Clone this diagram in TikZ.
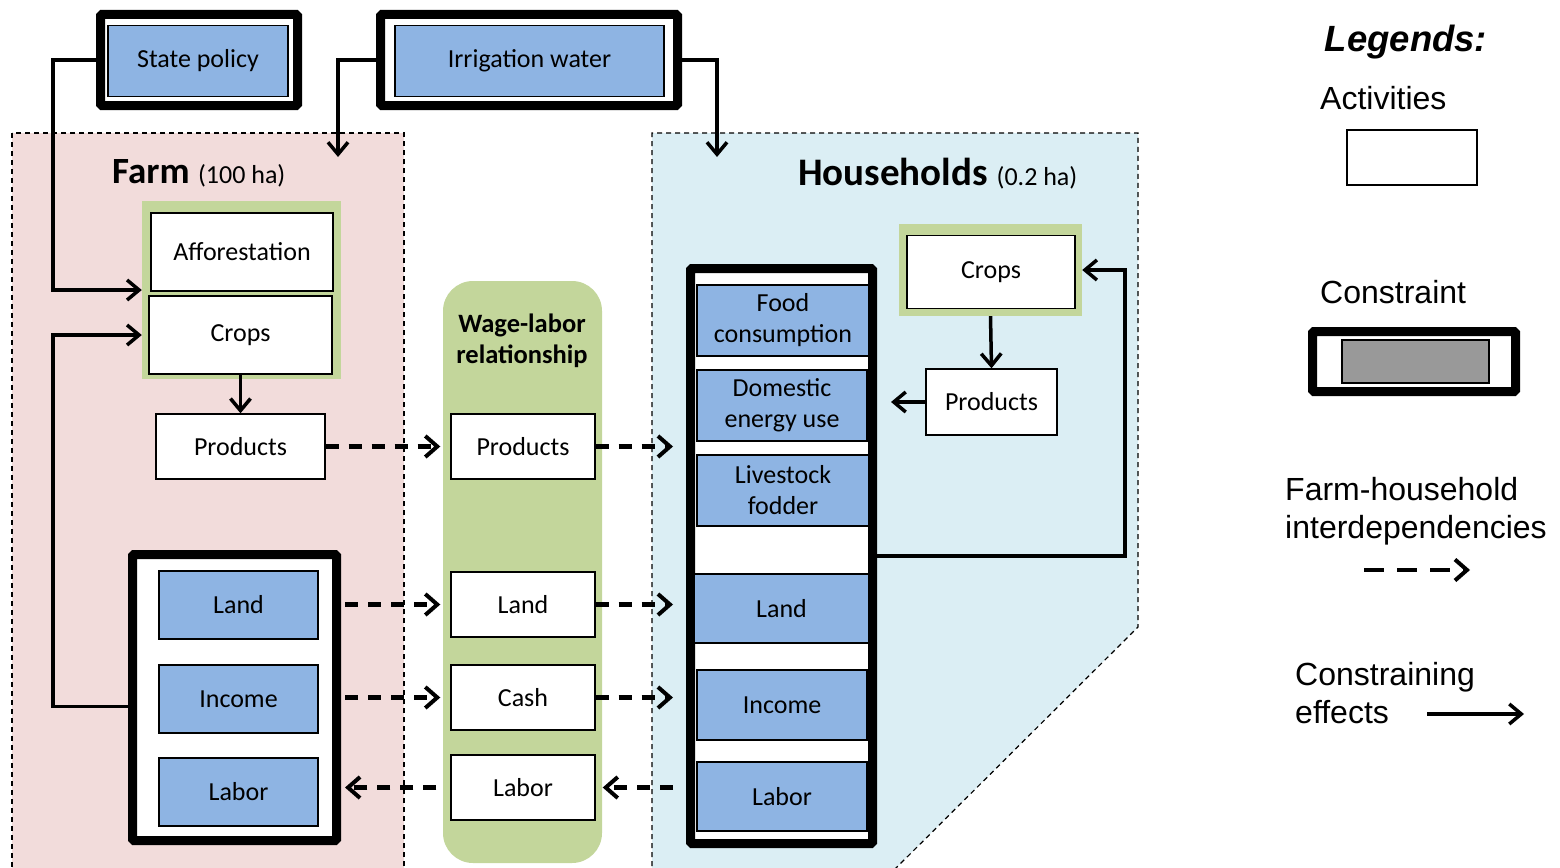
\documentclass[tikz,border=0pt]{standalone}
\usepackage{fontspec}
\setmainfont{Carlito}
\newfontfamily\arialfont{Liberation Sans}
\usetikzlibrary{arrows.meta}
\definecolor{farmpink}{HTML}{F2DCDB}
\definecolor{hhblue}{HTML}{DBEEF4}
\definecolor{actgreen}{HTML}{C3D69B}
\definecolor{consblue}{HTML}{8EB4E3}
\definecolor{leggray}{HTML}{999999}
\newcommand{\boxfont}{\fontsize{26}{31}\selectfont}
\newcommand{\legfont}{\arialfont\fontsize{32}{38}\selectfont}
\tikzset{
  actbox/.style={draw,fill=white,line width=1.4pt,inner sep=0pt,align=center,font=\boxfont},
  consbox/.style={actbox,fill=consblue},
  consframe/.style={draw,line width=9pt,fill=white,rounded corners=1.5pt,inner sep=0pt},
  actframe/.style={fill=actgreen,inner sep=0pt},
  area/.style={line width=1.2pt,dash pattern=on 5pt off 4pt},
  effect/.style={line width=3.5pt,-{Straight Barb[length=12pt,width=20pt,line width=3.5pt]}},
  interdep/.style={line width=4.5pt,dash pattern=on 13pt off 10pt,-{Straight Barb[length=12pt,width=21pt,line width=4pt]}},
  legtext/.style={font=\legfont,inner sep=0pt,anchor=base west}
}
\begin{document}
\begin{tikzpicture}[x=1pt,y=-1pt]
\useasboundingbox (0,0) rectangle (1560,867);
% areas
\draw[area,fill=farmpink] (12,133) rectangle (404,875);
\draw[area,fill=hhblue] (652,875) -- (652,133) -- (1138,133) -- (1138,627) -- (889,875);
\fill[actgreen,rounded corners=30pt] (443,281) rectangle (602,863);
\node[inner sep=0pt,anchor=base west] (farmtitle) at (112,183)
  {\fontsize{37}{40}\selectfont\bfseries Farm \fontsize{26}{30}\selectfont\mdseries(100 ha)};
\node[inner sep=0pt,anchor=base west] (hhtitle) at (798,185)
  {\fontsize{39}{40}\selectfont\bfseries Households \fontsize{26}{30}\selectfont\mdseries(0.2 ha)};
\node[inner sep=0pt,align=center,font=\fontsize{26.5}{31}\selectfont\bfseries] (wagetitle) at (522,341)
  {Wage-labor\\relationship};
% constraints on top
\node[consframe,minimum width=197pt,minimum height=91pt] (policyframe) at (199,60) {};
\node[consbox,minimum width=180pt,minimum height=71pt] (policy) at (198,61) {State policy};
\node[consframe,minimum width=297pt,minimum height=91pt] (irrigframe) at (529,60) {};
\node[consbox,minimum width=269pt,minimum height=71pt] (irrig) at (529.5,61) {Irrigation water};
\coordinate (farmin) at (338,157);
\coordinate (hhin) at (717,157);
% farm
\node[actframe,minimum width=199pt,minimum height=178pt] (farmact) at (241.5,290) {};
\node[actbox,minimum width=182pt,minimum height=78pt] (affor) at (242,252) {Afforestation};
\node[actbox,minimum width=183pt,minimum height=78pt] (crops) at (240.5,335) {Crops};
\node[actbox,minimum width=169pt,minimum height=65pt] (fprod) at (240.5,446.5) {Products};
\node[consframe,minimum width=204pt,minimum height=286pt] (farmcons) at (234.5,697.5) {};
\node[consbox,minimum width=159pt,minimum height=68pt] (fland) at (238.5,605) {Land};
\node[consbox,minimum width=159pt,minimum height=68pt] (fincome) at (238.5,699) {Income};
\node[consbox,minimum width=159pt,minimum height=68pt] (flabor) at (238.5,792) {Labor};
% wage-labor relationship
\node[actbox,minimum width=144pt,minimum height=65pt] (wprod) at (523,446.5) {Products};
\node[actbox,minimum width=144pt,minimum height=65pt] (wland) at (523,604.5) {Land};
\node[actbox,minimum width=144pt,minimum height=65pt] (wcash) at (523,697.5) {Cash};
\node[actbox,minimum width=144pt,minimum height=65pt] (wlabor) at (523,787.5) {Labor};
% households
\node[consframe,minimum width=182pt,minimum height=575pt] (hhcons) at (781.5,556) {};
\node[consbox,minimum width=172pt,minimum height=71pt] (hfood) at (783,320.5) {Food\\consumption};
\node[consbox,minimum width=170pt,minimum height=71pt] (henergy) at (782,405.5) {Domestic\\energy use};
\node[consbox,minimum width=172pt,minimum height=71pt] (hfodder) at (783,490.5) {Livestock\\fodder};
\node[consbox,minimum width=175pt,minimum height=69pt] (hland) at (781.5,608.5) {Land};
\node[consbox,minimum width=170pt,minimum height=70pt] (hincome) at (782,705) {Income};
\node[consbox,minimum width=170pt,minimum height=69pt] (hlabor) at (782,796.5) {Labor};
\node[actframe,minimum width=183pt,minimum height=92pt] (hhact) at (990.5,270) {};
\node[actbox,minimum width=168pt,minimum height=73pt] (hcrops) at (991,272) {Crops};
\node[actbox,minimum width=131pt,minimum height=66pt] (hprod) at (991.5,402) {Products};
% constraining effects
\draw[effect] (policyframe.west) -- ++(-43,0) |- (farmact.west);
\draw[effect] (irrigframe.west) -| (farmin);
\draw[effect] (irrigframe.east) -| (hhin);
\draw[effect] ([yshift=-9pt]farmcons.west) -- ++(-75,0) |- (farmact.west |- crops.west);
\draw[effect] (crops.south) -- (fprod.north);
\draw[effect] (hhact.south) -- (hprod.north);
\draw[effect,shorten >=14pt] (hprod.west) -- (hprod.west -| hhcons.east);
\draw[effect] (hhcons.east) -- ++(248,0) |- (hhact.east);
% farm-household interdependencies
\draw[interdep,shorten >=10pt] (fprod.east) -- (wprod.west);
\draw[interdep,shorten >=13pt] (wprod.east) -- (wprod.east -| hhcons.west);
\draw[interdep,shorten <=4pt,shorten >=10pt] (farmcons.east |- wland.west) -- (wland.west);
\draw[interdep,shorten >=13pt] (wland.east) -- (wland.east -| hhcons.west);
\draw[interdep,shorten <=4pt,shorten >=10pt] (farmcons.east |- wcash.west) -- (wcash.west);
\draw[interdep,shorten >=13pt] (wcash.east) -- (wcash.east -| hhcons.west);
\draw[interdep,shorten <=13pt,shorten >=7pt] (wlabor.east -| hhcons.west) -- (wlabor.east);
\draw[interdep,shorten <=14pt,shorten >=4pt] (wlabor.west) -- (wlabor.west -| farmcons.east);
% legend
\node[font=\arialfont\bfseries\itshape\fontsize{36.5}{40}\selectfont,inner sep=0pt,anchor=base] (legtitle) at (1406,52) {Legends:};
\node[legtext] (legact) at (1320,109) {Activities};
\node[draw,line width=2pt,minimum width=130pt,minimum height=55pt] (legactbox) at (1412,157.5) {};
\node[legtext] (legcons) at (1320,303) {Constraint};
\node[consframe,minimum width=203pt,minimum height=60pt] (legconsframe) at (1414,361.5) {};
\node[draw,fill=leggray,line width=1.3pt,minimum width=147pt,minimum height=43pt] (legconsbox) at (1415.5,361.5) {};
\node[legtext] (legdepA) at (1285,500) {Farm-household};
\node[legtext] (legdepB) at (1285,538) {interdependencies};
\coordinate (depA) at (1364,570);
\coordinate (depB) at (1470,570);
\draw[interdep,dash pattern=on 20pt off 13pt] (depA) -- (depB);
\node[legtext] (legeffA) at (1295,685) {Constraining};
\node[legtext] (legeffB) at (1295,723) {effects};
\coordinate (effA) at (1427,714);
\coordinate (effB) at (1524,714);
\draw[effect,line width=4.5pt] (effA) -- (effB);
\end{tikzpicture}
\end{document}
